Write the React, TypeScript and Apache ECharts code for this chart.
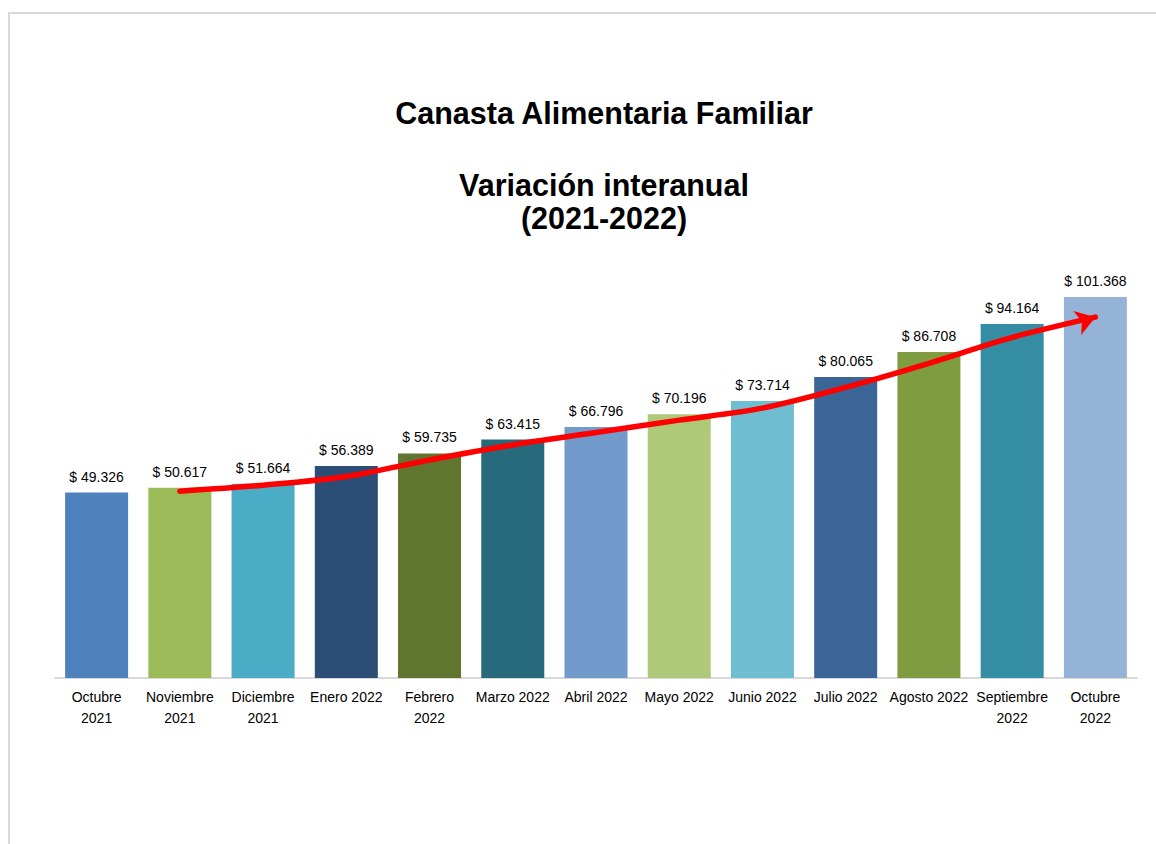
import React, { useEffect, useRef } from "react";
import * as echarts from "echarts";

const categories = [
  "Octubre\n2021",
  "Noviembre\n2021",
  "Diciembre\n2021",
  "Enero 2022",
  "Febrero\n2022",
  "Marzo 2022",
  "Abril 2022",
  "Mayo 2022",
  "Junio 2022",
  "Julio 2022",
  "Agosto 2022",
  "Septiembre\n2022",
  "Octubre\n2022",
];

const values = [49326, 50617, 51664, 56389, 59735, 63415, 66796, 70196, 73714, 80065, 86708, 94164, 101368];

const barColors = [
  "#4F81BD", "#9BBB59", "#4BACC6", "#2C4D75", "#5F7530", "#276A7C", "#729ACA",
  "#AFC97A", "#6FBDD1", "#3A6596", "#7F9D40", "#358DA3", "#95B3D7",
];

// Red trend arrow (hand-drawn in the original)
const trend: (number | string)[] = ["-", 49700, 51300, 53600, 58000, 62000, 65300, 68600, 71800, 77300, 83700, 90600, 96000];

const titleMain = "Canasta Alimentaria Familiar";
const titleSub = "Variación interanual\n(2021-2022)";

const fmt = (v: number) => "$ " + v.toString().replace(/\B(?=(\d{3})+(?!\d))/g, ".");

export default function App() {
  const ref = useRef<HTMLDivElement>(null);
  useEffect(() => {
    if (!ref.current) return;
    const chart = echarts.init(ref.current, null, { renderer: "svg" });
    const font = "'Liberation Sans', Arial, sans-serif";
    chart.setOption({
      animation: false,
      backgroundColor: "#ffffff",
      textStyle: { fontFamily: font },
      title: [
        {
          text: titleMain,
          left: 599,
          top: 91,
          padding: 5,
          textAlign: "center",
          textStyle: { fontFamily: font, fontSize: 30.5, fontWeight: "bold", color: "#000", lineHeight: 34 },
        },
        {
          text: titleSub,
          left: 599,
          top: 163,
          padding: 5,
          textAlign: "center",
          textStyle: { fontFamily: font, fontSize: 30.5, fontWeight: "bold", color: "#000", lineHeight: 33 },
        },
      ],
      graphic: [
        {
          type: "rect",
          shape: { x: 9, y: 13, width: 1300, height: 1000 },
          style: { fill: "none", stroke: "#d9d9d9", lineWidth: 2 },
          silent: true,
        },
      ],
      grid: { left: 55, right: 19, top: 264.5, height: 413.5 },
      xAxis: {
        type: "category",
        data: categories,
        axisLine: { show: true, lineStyle: { color: "#d9d9d9", width: 2 } },
        axisTick: { show: false },
        axisLabel: {
          interval: 0,
          color: "#000",
          fontSize: 14,
          fontFamily: font,
          lineHeight: 21,
          margin: 8,
        },
      },
      yAxis: {
        type: "value",
        min: 0,
        max: 110000,
        show: false,
        splitLine: { show: false },
      },
      series: [
        {
          type: "bar",
          barWidth: 63,
          data: values.map((v, i) => ({ value: v, itemStyle: { color: barColors[i] } })),
          label: {
            show: true,
            position: "top",
            distance: 9,
            color: "#000",
            fontSize: 14,
            fontFamily: font,
            formatter: (p: any) => fmt(p.value),
          },
          z: 2,
        },
        {
          type: "line",
          data: trend.map((v, i) =>
            i === trend.length - 1
              ? { value: v, symbol: "arrow", symbolSize: [19, 19], symbolRotate: -72 }
              : { value: v, symbol: "none" }
          ),
          smooth: 0.3,
          showSymbol: true,
          lineStyle: { color: "#FF0000", width: 5.5, cap: "round" },
          itemStyle: { color: "#FF0000" },
          z: 5,
        },
      ],
    });
    return () => chart.dispose();
  }, []);
  return <div ref={ref} style={{ position: "absolute", left: 0, top: 0, width: 1156, height: 844 }} />;
}
